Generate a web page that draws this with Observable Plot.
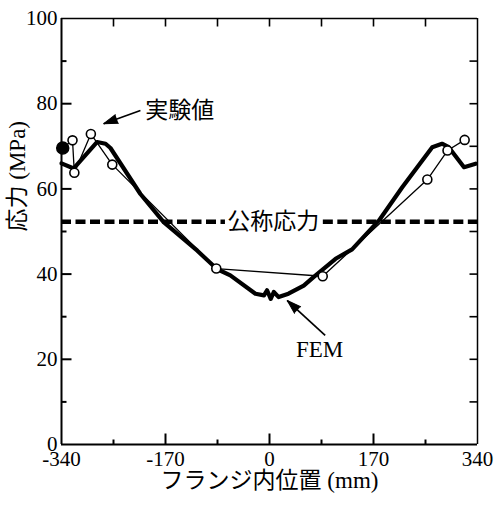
<!DOCTYPE html>
<html><head><meta charset="utf-8">
<script src="https://cdn.jsdelivr.net/npm/d3@7"></script>
<script src="https://cdn.jsdelivr.net/npm/@observablehq/plot@0.6"></script>
<style>body{margin:0;background:#fff} #chart svg{display:block}</style>
</head><body><div id="chart"></div>
<script>
// ---- data ----
const xMajor = [-340, -170, 0, 170, 340];
const xMinor = [-255, -85, 85, 255];
const yMajor = [0, 20, 40, 60, 80, 100];
const yMinor = [10, 30, 50, 70, 90];

// FEM analysis (thick line)
const femX = [-340, -320, -282, -268, -260, -211, -173, -118, -86, -64, -23, -9, -4, 2, 7, 15, 31, 56, 72, 108, 135, 179, 217, 266, 282, 293, 318, 337];
const femY = [66.0, 64.8, 71.0, 70.6, 69.6, 58.8, 52.2, 45.5, 41.2, 39.7, 35.4, 35.0, 36.2, 34.2, 35.8, 34.6, 35.4, 37.3, 39.3, 43.6, 45.8, 52.6, 60.4, 69.8, 70.6, 69.8, 65.1, 65.9];

// Experimental values (open circles, first one filled)
const expX = [-338, -322, -319, -292, -257, -87, 87, 258, 291, 319];
const expY = [69.6, 71.4, 63.8, 72.9, 65.7, 41.3, 39.5, 62.2, 69.0, 71.5];

// Nominal stress (dashed)
const nominal = 52.3;
const nominalLabel = "公称応力";
const nominalLabelX = 6;
const nominalSegs = [[-340, -72], [88, 340]];

// Annotations
const annLabels = ["実験値", "FEM"];
const annTextX = [-203, 82];
const annTextY = [78.4, 22.3];
const annTextAnchor = ["start", "middle"];
const annX1 = [-211, 91];
const annY1 = [78.4, 25.6];
const annX2 = [-271, 29];
const annY2 = [75.3, 33.8];

const xLabel = "フランジ内位置 (mm)";
const yLabel = "応力 (MPa)";

// ---- layout ----
const W = 495, H = 505, mL = 61, mR = 18, mT = 18, mB = 61;
const x0 = xMajor[0], x1 = xMajor[xMajor.length - 1];
const y0 = yMajor[0], y1 = yMajor[yMajor.length - 1];
const kx = (W - mL - mR) / (x1 - x0);
const ky = (H - mT - mB) / (y1 - y0);

const fem = femX.map((x, i) => ({x, y: femY[i]}));
const exp = expX.map((x, i) => ({x, y: expY[i]}));
const ann = annLabels.map((t, i) => {
  const dx = (annX2[i] - annX1[i]) * kx, dy = -(annY2[i] - annY1[i]) * ky;
  return {t, lx: annTextX[i], ly: annTextY[i], anchor: annTextAnchor[i],
    x1: annX1[i], y1: annY1[i], x2: annX2[i], y2: annY2[i],
    rot: Math.atan2(dx, -dy) * 180 / Math.PI};
});

const serif = "'Liberation Serif', 'Noto Sans CJK JP', serif";
const cjk = "'Noto Sans CJK JP', sans-serif";
// tick lengths in pixels converted to data units
const pxX = px => px / kx, pxY = px => px / ky;

// inward tick segments built from the tick arrays
const ticksMajor = [
  ...xMajor.slice(1, -1).map(v => ({a: v, b: v, c: y0, d: y0 + pxY(11)})),
  ...yMajor.slice(1, -1).map(v => ({a: x0, b: x0 + pxX(10), c: v, d: v}))
];
const ticksMinor = [
  ...xMinor.map(v => ({a: v, b: v, c: y0, d: y0 + pxY(5)})),
  ...yMinor.map(v => ({a: x0, b: x0 + pxX(5), c: v, d: v}))
];
const ticksMirror = [
  ...[...xMajor.slice(1, -1), ...xMinor].map(v => ({a: v, b: v, c: y1 - pxY(8), d: y1})),
  ...[...yMajor.slice(1, -1), ...yMinor].map(v => ({a: x1 - pxX(8), b: x1, c: v, d: v}))
];

const chart = Plot.plot({
  width: W, height: H,
  marginLeft: mL, marginRight: mR, marginTop: mT, marginBottom: mB,
  x: {domain: [x0, x1]},
  y: {domain: [y0, y1]},
  style: {fontFamily: serif, fontSize: "20px", color: "black", background: "white"},
  marks: [
    // frame
    Plot.ruleX([x0], {strokeWidth: 2}),
    Plot.ruleY([y0], {strokeWidth: 2}),
    Plot.ruleX([x1], {strokeWidth: 1.5}),
    Plot.ruleY([y1], {strokeWidth: 1.5}),
    // inward ticks
    Plot.link(ticksMajor, {x1: "a", x2: "b", y1: "c", y2: "d", stroke: "black", strokeWidth: 2}),
    Plot.link(ticksMinor, {x1: "a", x2: "b", y1: "c", y2: "d", stroke: "black", strokeWidth: 2}),
    Plot.link(ticksMirror, {x1: "a", x2: "b", y1: "c", y2: "d", stroke: "black", strokeWidth: 1.6}),
    // tick labels
    Plot.axisX(xMajor, {anchor: "bottom", tickSize: 0, tickPadding: 7, tickFormat: d => String(d), fontSize: 21, label: null}),
    Plot.axisY(yMajor, {anchor: "left", tickSize: 0, tickPadding: 4, tickFormat: d => String(d), fontSize: 21, label: null}),
    // axis titles
    Plot.text([xLabel], {text: d => d, frameAnchor: "bottom", dy: 43, fontSize: 23, fontFamily: serif}),
    Plot.text([yLabel], {text: d => d, frameAnchor: "left", dx: -44, rotate: -90, fontSize: 23, fontFamily: serif}),
    // nominal stress
    Plot.ruleY(nominalSegs, {y: () => nominal, x1: d => d[0], x2: d => d[1], strokeWidth: 4.5, strokeDasharray: "10,4.5"}),
    Plot.text([nominalLabel], {x: nominalLabelX, y: nominal, text: d => d, fontSize: 23, fontFamily: cjk}),
    // FEM
    Plot.line(fem, {x: "x", y: "y", strokeWidth: 4.2, strokeLinejoin: "round"}),
    // experiment
    Plot.line(exp, {x: "x", y: "y", strokeWidth: 1.3}),
    Plot.dot(exp.slice(1), {x: "x", y: "y", r: 4.5, fill: "white", stroke: "black", strokeWidth: 1.6}),
    Plot.dot(exp.slice(0, 1), {x: "x", y: "y", r: 6, fill: "black", stroke: "black"}),
    // annotations
    Plot.link(ann, {x1: "x1", y1: "y1", x2: "x2", y2: "y2", strokeWidth: 1.7}),
    Plot.vector(ann, {x: "x2", y: "y2", rotate: "rot", length: 14, r: 4.5, shape: "spike", anchor: "end", fill: "black", stroke: "black", strokeWidth: 1}),
    Plot.text(ann.filter(d => d.anchor === "start"), {x: "lx", y: "ly", text: "t", textAnchor: "start", fontSize: 23, fontFamily: cjk}),
    Plot.text(ann.filter(d => d.anchor === "middle"), {x: "lx", y: "ly", text: "t", textAnchor: "middle", fontSize: 23, fontFamily: "'Liberation Serif', serif"})
  ]
});
document.getElementById("chart").appendChild(chart);
</script></body></html>
